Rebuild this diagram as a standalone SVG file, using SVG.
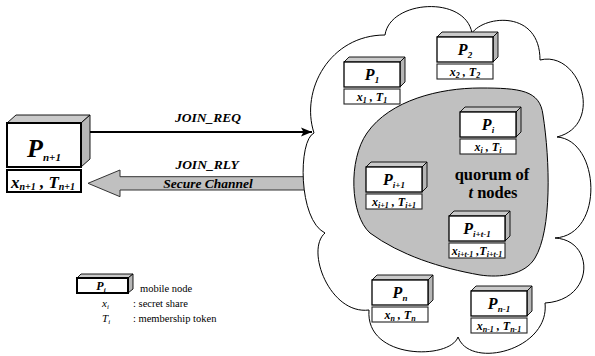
<svg xmlns="http://www.w3.org/2000/svg" xmlns:xlink="http://www.w3.org/1999/xlink" width="595" height="356" viewBox="0 0 595 356">
  <style>
    .bi { font-family: "Liberation Serif", "Times New Roman", serif; font-weight: bold; font-style: italic; fill: #000; }
    .b { font-family: "Liberation Serif", "Times New Roman", serif; font-weight: bold; fill: #000; }
    .rm { font-family: "Liberation Serif", "Times New Roman", serif; fill: #000; }
    .it { font-family: "Liberation Serif", "Times New Roman", serif; font-style: italic; fill: #000; }
    .front { fill: #fff; stroke: #000; stroke-width: 1.3; }
    .tag { fill: #fff; stroke: #222; stroke-width: 1.1; }
    .top { fill: #cacaca; stroke: #000; stroke-width: 0.9; stroke-linejoin: round; }
    .side { fill: #b6b6b6; stroke: #000; stroke-width: 0.9; stroke-linejoin: round; }
    .mid { text-anchor: middle; }
  </style>
  <defs>
    <marker id="arrowhead" markerWidth="12" markerHeight="10" refX="11" refY="5" orient="auto" markerUnits="userSpaceOnUse">
      <path d="M0,0.5 L11,5 L0,9.5 L2.5,5 z" fill="#000"/>
    </marker>
    <!-- 3D box with its share/token tag underneath -->
    <g id="cube">
      <polygon class="top" points="0,0 5,-5 61,-5 56,0"/>
      <polygon class="side" points="56,0 61,-5 61,20 56,25"/>
      <rect class="front" x="0" y="0" width="56" height="25"/>
      <rect class="tag" x="0" y="27" width="56" height="15"/>
    </g>
  </defs>

  <rect width="595" height="356" fill="#fff"/>

  <!-- connectors -->
  <g id="connectors">
    <line x1="90" y1="132" x2="312" y2="132" stroke="#000" stroke-width="1.8" marker-end="url(#arrowhead)"/>
    <text class="bi mid" x="208" y="122" font-size="13.5">JOIN_REQ</text>
    <polygon points="88,183.3 120,170 120,176.7 312,176.7 312,190 120,190 120,196.7" fill="#c0c0c0" stroke="#333" stroke-width="1"/>
    <text class="bi mid" x="207" y="169" font-size="13.5">JOIN_RLY</text>
    <text class="bi mid" x="208" y="187.5" font-size="13.5">Secure Channel</text>
  </g>

  <!-- network cloud -->
  <g id="cloud">
    <path d="M314,133 C300,90 330,35 385,35 C390,0 465,-5 472,33 C485,15 540,10 540,60 C580,50 605,125 557,137 C600,140 605,235 555,238 C595,240 595,300 545,303 C550,350 470,370 458,337 C450,360 365,360 369,310 C330,315 305,250 325,233 C298,220 298,140 314,133 Z" fill="#fff" stroke="#000" stroke-width="1"/>
  </g>

  <!-- quorum region -->
  <g id="quorum">
    <path d="M367,133 C390,100 440,88 480,88 C520,88 540,90 543,115 C550,160 552,230 535,258 C525,275 500,278 480,275 C440,268 400,255 370,233 C350,215 348,160 367,133 Z" fill="#c0c0c0" stroke="#000" stroke-width="1"/>
    <text class="b mid" x="492" y="179.5" font-size="16.5">quorum of</text>
    <text class="b mid" x="493" y="198" font-size="16.5"><tspan font-style="italic">t</tspan> nodes</text>
  </g>

  <!-- joining node -->
  <g id="node-pn1">
    <polygon class="top" points="7,123 16,115 90,115 81,123"/>
    <polygon class="side" points="81,123 90,115 90,159 81,167"/>
    <rect x="7" y="123" width="74" height="44" fill="#fff" stroke="#000" stroke-width="2"/>
    <rect x="7" y="170" width="74" height="22" fill="#fff" stroke="#000" stroke-width="2"/>
    <text class="bi mid" x="44" y="157" font-size="26">P<tspan font-size="11" dy="4">n+1</tspan></text>
    <text class="bi mid" x="43" y="188" font-size="17">x<tspan font-size="10" dy="2">n+1</tspan><tspan dy="-2"> , T</tspan><tspan font-size="10" dy="2">n+1</tspan></text>
  </g>

  <!-- member nodes -->
  <g id="node-p1" transform="translate(344,62)">
    <use xlink:href="#cube"/>
    <text class="bi mid" x="28" y="18" font-size="16">P<tspan font-size="9" dy="3">1</tspan></text>
    <text class="bi mid" x="28" y="38.5" font-size="12">x<tspan font-size="8" dy="2">1</tspan><tspan dy="-2"> , T</tspan><tspan font-size="8" dy="2">1</tspan></text>
  </g>
  <g id="node-p2" transform="translate(437,37)">
    <use xlink:href="#cube"/>
    <text class="bi mid" x="28" y="18" font-size="16">P<tspan font-size="9" dy="3">2</tspan></text>
    <text class="bi mid" x="28" y="38.5" font-size="12">x<tspan font-size="8" dy="2">2</tspan><tspan dy="-2"> , T</tspan><tspan font-size="8" dy="2">2</tspan></text>
  </g>
  <g id="node-pi" transform="translate(460,112)">
    <use xlink:href="#cube"/>
    <text class="bi mid" x="28" y="18" font-size="16">P<tspan font-size="9" dy="3">i</tspan></text>
    <text class="bi mid" x="28" y="38.5" font-size="12">x<tspan font-size="8" dy="2">i</tspan><tspan dy="-2"> , T</tspan><tspan font-size="8" dy="2">i</tspan></text>
  </g>
  <g id="node-pi1" transform="translate(366,167)">
    <use xlink:href="#cube"/>
    <text class="bi mid" x="28" y="18" font-size="16">P<tspan font-size="9" dy="3">i+1</tspan></text>
    <text class="bi mid" x="28" y="38.5" font-size="12">x<tspan font-size="8" dy="2">i+1</tspan><tspan dy="-2"> , T</tspan><tspan font-size="8" dy="2">i+1</tspan></text>
  </g>
  <g id="node-pit1" transform="translate(449,216)">
    <use xlink:href="#cube"/>
    <text class="bi mid" x="28" y="18" font-size="16">P<tspan font-size="9" dy="3">i+t-1</tspan></text>
    <text class="bi mid" x="28" y="38.5" font-size="12">x<tspan font-size="8" dy="2">i+t-1</tspan><tspan dy="-2"> ,T</tspan><tspan font-size="8" dy="2">i+t-1</tspan></text>
  </g>
  <g id="node-pn" transform="translate(372,280)">
    <use xlink:href="#cube"/>
    <text class="bi mid" x="28" y="18" font-size="16">P<tspan font-size="9" dy="3">n</tspan></text>
    <text class="bi mid" x="28" y="38.5" font-size="12">x<tspan font-size="8" dy="2">n</tspan><tspan dy="-2"> , T</tspan><tspan font-size="8" dy="2">n</tspan></text>
  </g>
  <g id="node-pn-1" transform="translate(471,291)">
    <use xlink:href="#cube"/>
    <text class="bi mid" x="28" y="18" font-size="16">P<tspan font-size="9" dy="3">n-1</tspan></text>
    <text class="bi mid" x="28" y="38.5" font-size="12">x<tspan font-size="8" dy="2">n-1</tspan><tspan dy="-2"> , T</tspan><tspan font-size="8" dy="2">n-1</tspan></text>
  </g>

  <!-- legend -->
  <g id="legend">
    <polygon class="top" points="77,278 81,274 133,274 128,278"/>
    <polygon class="side" points="128,278 133,274 133,289 128,293"/>
    <rect x="77" y="278" width="51" height="15" fill="#fff" stroke="#000" stroke-width="2"/>
    <text class="bi mid" x="101" y="290" font-size="12">P<tspan font-size="7" dy="2">i</tspan></text>
    <text class="rm" x="140" y="292" font-size="10.5">mobile node</text>
    <text class="it" x="102" y="307" font-size="11">x<tspan font-size="7" dy="2">i</tspan></text>
    <text class="rm" x="133" y="307" font-size="10.5">: secret share</text>
    <text class="it" x="102" y="322" font-size="11">T<tspan font-size="7" dy="2">i</tspan></text>
    <text class="rm" x="133" y="322" font-size="10.5">: membership token</text>
  </g>
</svg>
